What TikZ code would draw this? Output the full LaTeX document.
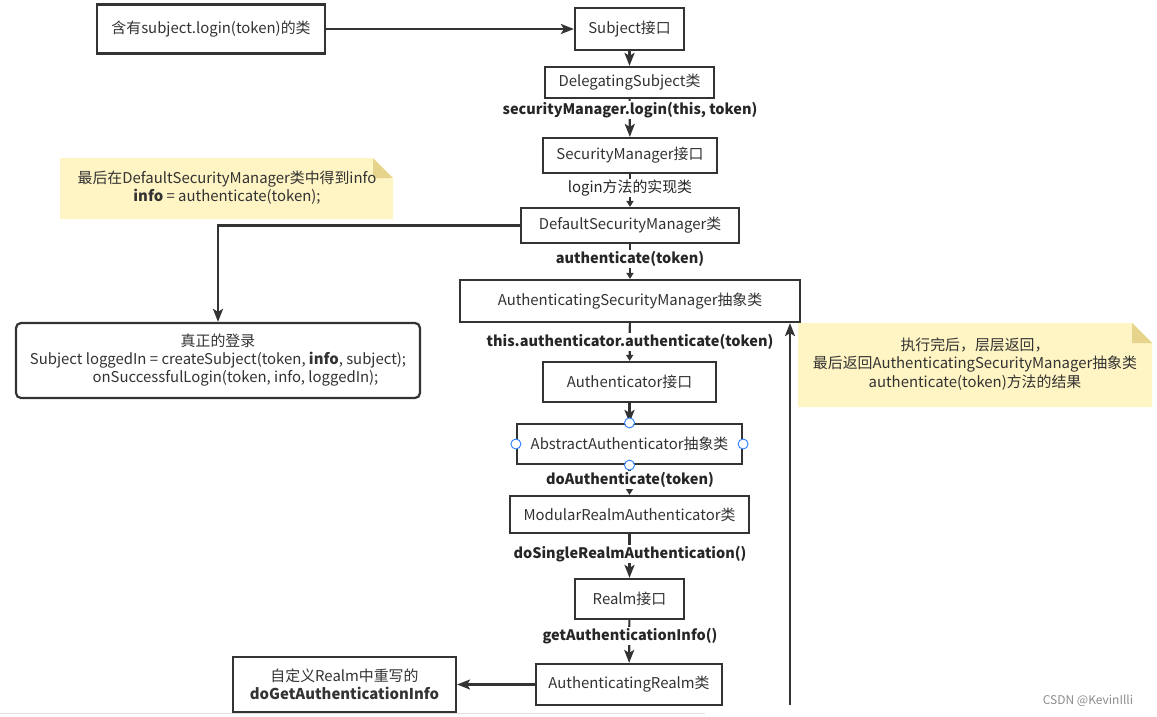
\documentclass[tikz,border=0pt]{standalone}
\usepackage{fontspec}
\setmainfont{Noto Sans CJK SC}
\usetikzlibrary{arrows.meta}

\definecolor{linegray}{RGB}{51,51,51}
\definecolor{notefill}{RGB}{255,244,195}
\definecolor{notefold}{RGB}{230,211,140}
\definecolor{handleblue}{RGB}{41,128,255}

\tikzset{
	box/.style={draw=linegray, line width=2.2pt, fill=white, text=linegray, inner sep=0pt, align=center, font=\fontsize{14.9}{18}\selectfont},
	lbl/.style={fill=white, text=black!85, inner sep=1pt, font=\bfseries\fontsize{14.5}{18}\selectfont},
	notetext/.style={text=linegray, align=center, font=\fontsize{14.9}{18.5}\selectfont},
	big/.style={draw=linegray, line width=2.2pt, -{Stealth[length=13pt,width=10pt,inset=3pt]}},
	small/.style={draw=linegray, line width=2.2pt, -{Triangle[length=6pt,width=7pt]}},
	handle/.style={circle, draw=handleblue, fill=white, line width=0.9pt, minimum size=10pt, inner sep=0pt}
}

\begin{document}
\begin{tikzpicture}[x=1pt, y=-1pt]
	\useasboundingbox (0,0) rectangle (1157,716);
	% notes
	\fill[notefill] (60,158) -- (373,158) -- (393,178) -- (393,219) -- (60,219) -- cycle;
	\fill[notefold] (373,158) -- (393,178) -- (373,178) -- cycle;
	\node[notetext] (noteinfo) at (227,187.5) {最后在DefaultSecurityManager类中得到info\\\textbf{info} = authenticate(token);};
	\fill[notefill] (798,323) -- (1132,323) -- (1152,343) -- (1152,407) -- (798,407) -- cycle;
	\fill[notefold] (1132,323) -- (1152,343) -- (1132,343) -- cycle;
	\node[notetext] (noteback) at (975,364) {执行完后，层层返回，\\最后返回AuthenticatingSecurityManager抽象类\\authenticate(token)方法的结果};

	% boxes
	\node[box, minimum width=228, minimum height=49] (caller) at (211,29) {含有subject.login(token)的类};
	\node[box, minimum width=109, minimum height=42] (subj) at (629.5,29) {Subject接口};
	\node[box, minimum width=169, minimum height=31] (deleg) at (629.5,82.5) {DelegatingSubject类};
	\node[box, minimum width=174, minimum height=35] (secmgr) at (630,155.5) {SecurityManager接口};
	\node[box, minimum width=218, minimum height=35] (defmgr) at (630,225.5) {DefaultSecurityManager类};
	\node[box, minimum width=340, minimum height=42] (authsec) at (630,301) {AuthenticatingSecurityManager抽象类};
	\node[box, minimum width=173, minimum height=40] (authr) at (629.5,382) {Authenticator接口};
	\node[box, minimum width=225, minimum height=40] (abstr) at (629.5,444) {AbstractAuthenticator抽象类};
	\node[box, minimum width=239, minimum height=37] (modular) at (629.5,514.5) {ModularRealmAuthenticator类};
	\node[box, minimum width=109, minimum height=40] (realm) at (629.5,599) {Realm接口};
	\node[box, minimum width=186, minimum height=41] (authrealm) at (629,684.5) {AuthenticatingRealm类};
	\node[box, minimum width=223, minimum height=55] (custom) at (344.5,684.5) {自定义Realm中重写的\\\textbf{doGetAuthenticationInfo}};
	\node[box, rounded corners=5pt, minimum width=404, minimum height=75] (login) at (218,360.5) {真正的登录\\Subject loggedIn = createSubject(token, \textbf{info}, subject);\\\hspace*{35pt}onSuccessfulLogin(token, info, loggedIn);};

	% connectors
	\draw[big] (caller) -- (subj);
	\draw[big] (subj) -- (deleg);
	\draw[big] (deleg) -- (secmgr);
	\draw[small] (secmgr) -- (defmgr);
	\draw[small] (defmgr) -- (authsec);
	\draw[small] (authsec) -- (authr);
	\draw[big] (authr) -- (abstr);
	\draw[small] (abstr) -- (modular);
	\draw[big] (modular) -- (realm);
	\draw[big] (realm) -- (authrealm);
	\draw[big] (authrealm) -- (custom);
	\draw[big] (defmgr.west) -| (login.north);
	\coordinate (backstart) at (790,705);
	\draw[big] (backstart) -- (backstart |- authsec.south);

	% labels on the lines
	\node[lbl] (lbllogin) at (630,110) {securityManager.login(this, token)};
	\node[lbl, font=\fontsize{14.9}{18}\selectfont] (lblimpl) at (630,188) {login方法的实现类};
	\node[lbl] (lblauth) at (630,259) {authenticate(token)};
	\node[lbl] (lblthis) at (630,342) {this.authenticator.authenticate(token)};
	\node[lbl] (lbldoauth) at (630,480) {doAuthenticate(token)};
	\node[lbl] (lblsingle) at (630,554) {doSingleRealmAuthentication()};
	\node[lbl] (lblget) at (630,636) {getAuthenticationInfo()};

	% selection handles
	\foreach \a in {north,south,west,east}
		\node[handle] at (abstr.\a) {};

	\draw[black!12, line width=1pt] (0,713) -- (705,713);
	\node[text=black!45, font=\fontsize{12}{14}\selectfont] (mark) at (1088,701) {CSDN @KevinIlli};
\end{tikzpicture}
\end{document}
